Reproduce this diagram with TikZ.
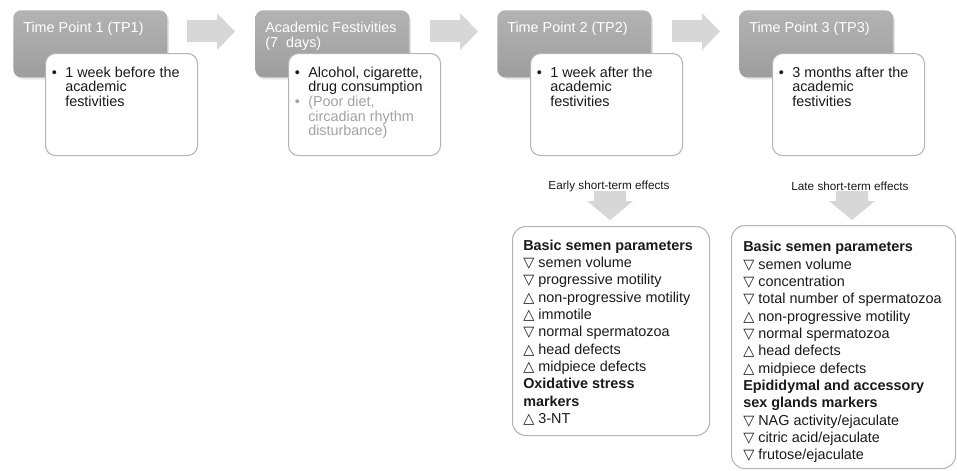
\documentclass[tikz,border=0pt]{standalone}
\usepackage{fontspec}
\setmainfont{Liberation Sans}
\newfontfamily\symfont{DejaVu Sans}
\usetikzlibrary{shadows}
\definecolor{greytop}{HTML}{B3B3B3}
\definecolor{greybot}{HTML}{9D9D9D}
\definecolor{arrowfill}{HTML}{D7D7D7}
\definecolor{wborder}{HTML}{B5B5B5}
\definecolor{txt}{HTML}{1A1A1A}
\definecolor{txtgrey}{HTML}{A3A3A3}
\newcommand\tdown{{\symfont ▽}}
\newcommand\tup{{\symfont △}}
\newcommand\bul{\llap{\textbullet\hspace{6.2pt}}}
\tikzset{
  headbox/.style={rounded corners=6pt, top color=greytop, bottom color=greybot,
    anchor=north west, minimum width=115.5pt, minimum height=50.25pt, inner sep=0pt,
    drop shadow={opacity=0.22, shadow xshift=1.2pt, shadow yshift=-1.5pt}},
  headtxt/.style={anchor=north west, inner sep=0pt, align=left, text=white,
    font=\fontsize{10.8}{11.1}\selectfont},
  wbox/.style={rounded corners=7.5pt, fill=white, draw=wborder, line width=0.8pt,
    anchor=north west, minimum width=114pt, minimum height=76.5pt, inner sep=0pt},
  wtxt/.style={anchor=north west, inner sep=0pt, align=left, text=txt,
    font=\fontsize{10.8}{11}\selectfont},
  effbox/.style={rounded corners=10pt, fill=white, draw=wborder, line width=0.8pt,
    anchor=north west, inner sep=0pt},
  efftxt/.style={anchor=north west, inner sep=0pt, align=left, text=txt,
    font=\fontsize{10.8}{13}\selectfont},
  lbl/.style={inner sep=0pt, text=txt, font=\fontsize{8.8}{10}\selectfont},
  blockarrow/.style={fill=arrowfill, draw=none}
}
\begin{document}
\begin{tikzpicture}[x=0.75pt,y=-0.75pt]
\useasboundingbox (0,0) rectangle (957,471);
\fill[white] (0,0) rectangle (957,471);

% right block arrows
\foreach \dx/\nm in {0/ra1,243/ra2,485/ra3}{
  \coordinate (\nm) at (187+\dx,31.5);
  \fill[blockarrow] (187+\dx,20) -- (217+\dx,20) -- (217+\dx,13) -- (235+\dx,31.5)
    -- (217+\dx,50) -- (217+\dx,42) -- (187+\dx,42) -- cycle;
}

% group 1
\node[headbox] (g1) at (13,10) {};
\node[headtxt] (g1t) at (23,21.5) {Time Point 1 (TP1)};
\node[wbox] (w1) at (45,53) {};
\node[wtxt] (w1t) at (65,66.5) {\bul 1 week before the\\academic\\festivities};

% group 2
\node[headbox] (g2) at (255,10) {};
\node[headtxt] (g2t) at (265,21.5) {Academic Festivities\\(7\ \ days)};
\node[wbox] (w2) at (288,53) {};
\node[wtxt] (w2t) at (308,66.5) {\bul Alcohol, cigarette,\\drug consumption\\
  \color{txtgrey}\bul (Poor diet,\\\color{txtgrey}circadian rhythm\\\color{txtgrey}disturbance)};

% group 3
\node[headbox] (g3) at (497,10) {};
\node[headtxt] (g3t) at (507,21.5) {Time Point 2 (TP2)};
\node[wbox] (w3) at (530,53) {};
\node[wtxt] (w3t) at (550,66.5) {\bul 1 week after the\\academic\\festivities};

% group 4
\node[headbox] (g4) at (739,10) {};
\node[headtxt] (g4t) at (749,21.5) {Time Point 3 (TP3)};
\node[wbox] (w4) at (772,53) {};
\node[wtxt] (w4t) at (792,66.5) {\bul 3 months after the\\academic\\festivities};

% labels
\node[lbl] (lA) at (609,186) {Early short-term effects};
\node[lbl] (lB) at (850,186) {Late short-term effects};

% down block arrows
\fill[blockarrow] (594,191) -- (626,191) -- (626,201) -- (633,201) -- (610,220)
  -- (587,201) -- (594,201) -- cycle;
\fill[blockarrow] (836,191) -- (868,191) -- (868,201) -- (875,201) -- (852,220)
  -- (829,201) -- (836,201) -- cycle;

% effect boxes
\node[effbox, minimum width=147.75pt, minimum height=156.75pt] (bA) at (512,226) {};
\node[efftxt] (bAt) at (523,239.5) {\textbf{Basic semen parameters}\\
  \tdown\ semen volume\\
  \tdown\ progressive motility\\
  \tup\ non-progressive motility\\
  \tup\ immotile\\
  \tdown\ normal spermatozoa\\
  \tup\ head defects\\
  \tup\ midpiece defects\\
  \textbf{Oxidative stress}\\
  \textbf{markers}\\
  \tup\ 3-NT};

\node[effbox, minimum width=168pt, minimum height=182.25pt] (bB) at (731,225) {};
\node[efftxt] (bBt) at (743,241) {\textbf{Basic semen parameters}\\
  \tdown\ semen volume\\
  \tdown\ concentration\\
  \tdown\ total number of spermatozoa\\
  \tup\ non-progressive motility\\
  \tdown\ normal spermatozoa\\
  \tup\ head defects\\
  \tup\ midpiece defects\\
  \textbf{Epididymal and accessory}\\
  \textbf{sex glands markers}\\
  \tdown\ NAG activity/ejaculate\\
  \tdown\ citric acid/ejaculate\\
  \tdown\ frutose/ejaculate};
\end{tikzpicture}
\end{document}
